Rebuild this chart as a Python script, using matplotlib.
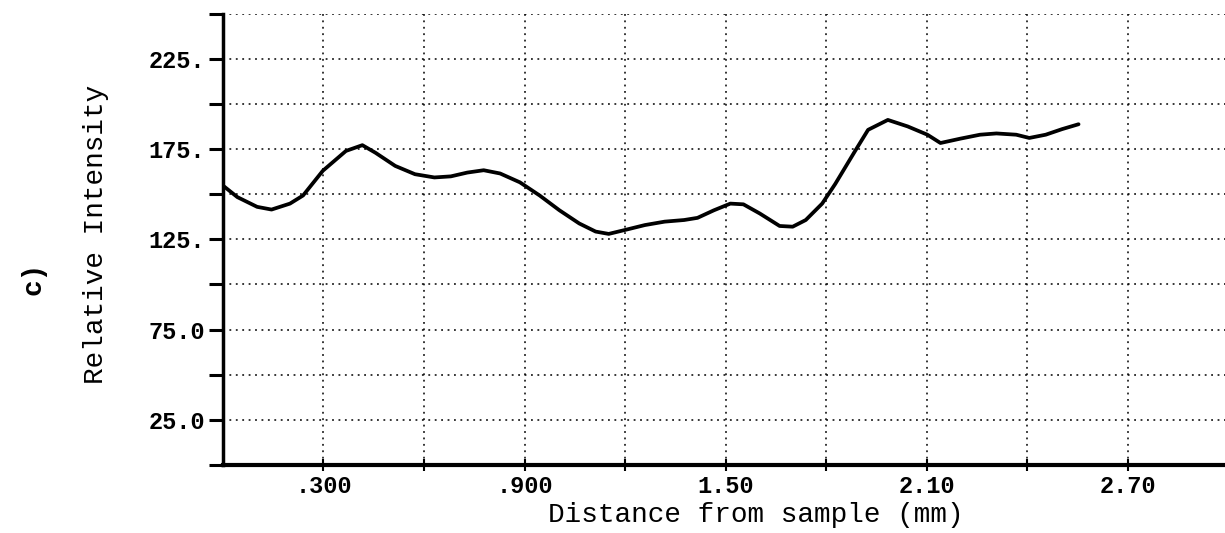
import matplotlib
matplotlib.use("Agg")
import matplotlib.pyplot as plt

# profile
distance_mm = [0.0, 0.043, 0.102, 0.145, 0.2, 0.239, 0.298, 0.367, 0.416, 0.455,
               0.514, 0.573, 0.631, 0.680, 0.729, 0.778, 0.827, 0.886, 0.945, 1.004,
               1.063, 1.112, 1.151, 1.2, 1.259, 1.318, 1.376, 1.416, 1.465, 1.514,
               1.553, 1.602, 1.661, 1.7, 1.739, 1.788, 1.827, 1.886, 1.925, 1.984,
               2.043, 2.102, 2.141, 2.2, 2.259, 2.308, 2.367, 2.406, 2.455, 2.504, 2.553]
intensity = [154.8, 148.4, 143.0, 141.5, 144.8, 149.3, 163.0, 174.0, 177.2, 173.0,
             165.7, 161.1, 159.3, 159.9, 162.0, 163.3, 161.5, 156.6, 149.3, 141.1,
             133.8, 129.3, 128.0, 130.2, 132.9, 134.8, 135.7, 136.9, 141.1, 144.8,
             144.4, 139.3, 132.4, 132.0, 135.7, 144.8, 155.7, 173.9, 185.7, 191.2,
             187.6, 183.0, 178.4, 180.8, 183.0, 183.7, 183.0, 181.2, 183.0, 186.1, 188.8]

x_ticks = [0.3, 0.6, 0.9, 1.2, 1.5, 1.8, 2.1, 2.4, 2.7]
x_tick_labels = [".300", "", ".900", "", "1.50", "", "2.10", "", "2.70"]
y_ticks = [25, 50, 75, 100, 125, 150, 175, 200, 225, 250]
y_tick_labels = ["25.0", "", "75.0", "", "125.", "", "175.", "", "225.", ""]

mono = "Liberation Mono"

fig = plt.figure(figsize=(12.25, 5.33), dpi=100)
ax = fig.add_axes([0.182, 0.128, 0.818, 0.846])

ax.plot(distance_mm, intensity, color="black", lw=2.7, solid_capstyle="round",
        solid_joinstyle="round")

ax.set_xlim(0, 2.99)
ax.set_ylim(0, 250)
ax.set_xticks(x_ticks)
ax.set_xticklabels(x_tick_labels, fontfamily=mono, fontweight="bold", fontsize=17)
ax.set_yticks([0] + y_ticks)
ax.set_yticklabels([""] + y_tick_labels, fontfamily=mono, fontweight="bold", fontsize=17)

ax.grid(True, color="black", linestyle=(0, (1.2, 3)), lw=1.1)
ax.tick_params(axis="y", direction="out", length=10, width=2.2, pad=3)
ax.tick_params(axis="x", direction="inout", length=9, width=1.5, pad=3)

for s in ["top", "right"]:
    ax.spines[s].set_visible(False)
ax.spines["left"].set_linewidth(2.5)
ax.spines["bottom"].set_linewidth(3)

fig.text(0.617, 0.034, "Distance from sample (mm)", fontfamily=mono, fontsize=20,
         ha="center", va="center")
fig.text(0.078, 0.56, "Relative Intensity", fontfamily=mono, fontsize=20,
         rotation=90, ha="center", va="center")
fig.text(0.027, 0.478, "c)", fontfamily=mono, fontsize=20, fontweight="bold",
         rotation=90, ha="center", va="center")

fig.savefig("out.png", dpi=100)
